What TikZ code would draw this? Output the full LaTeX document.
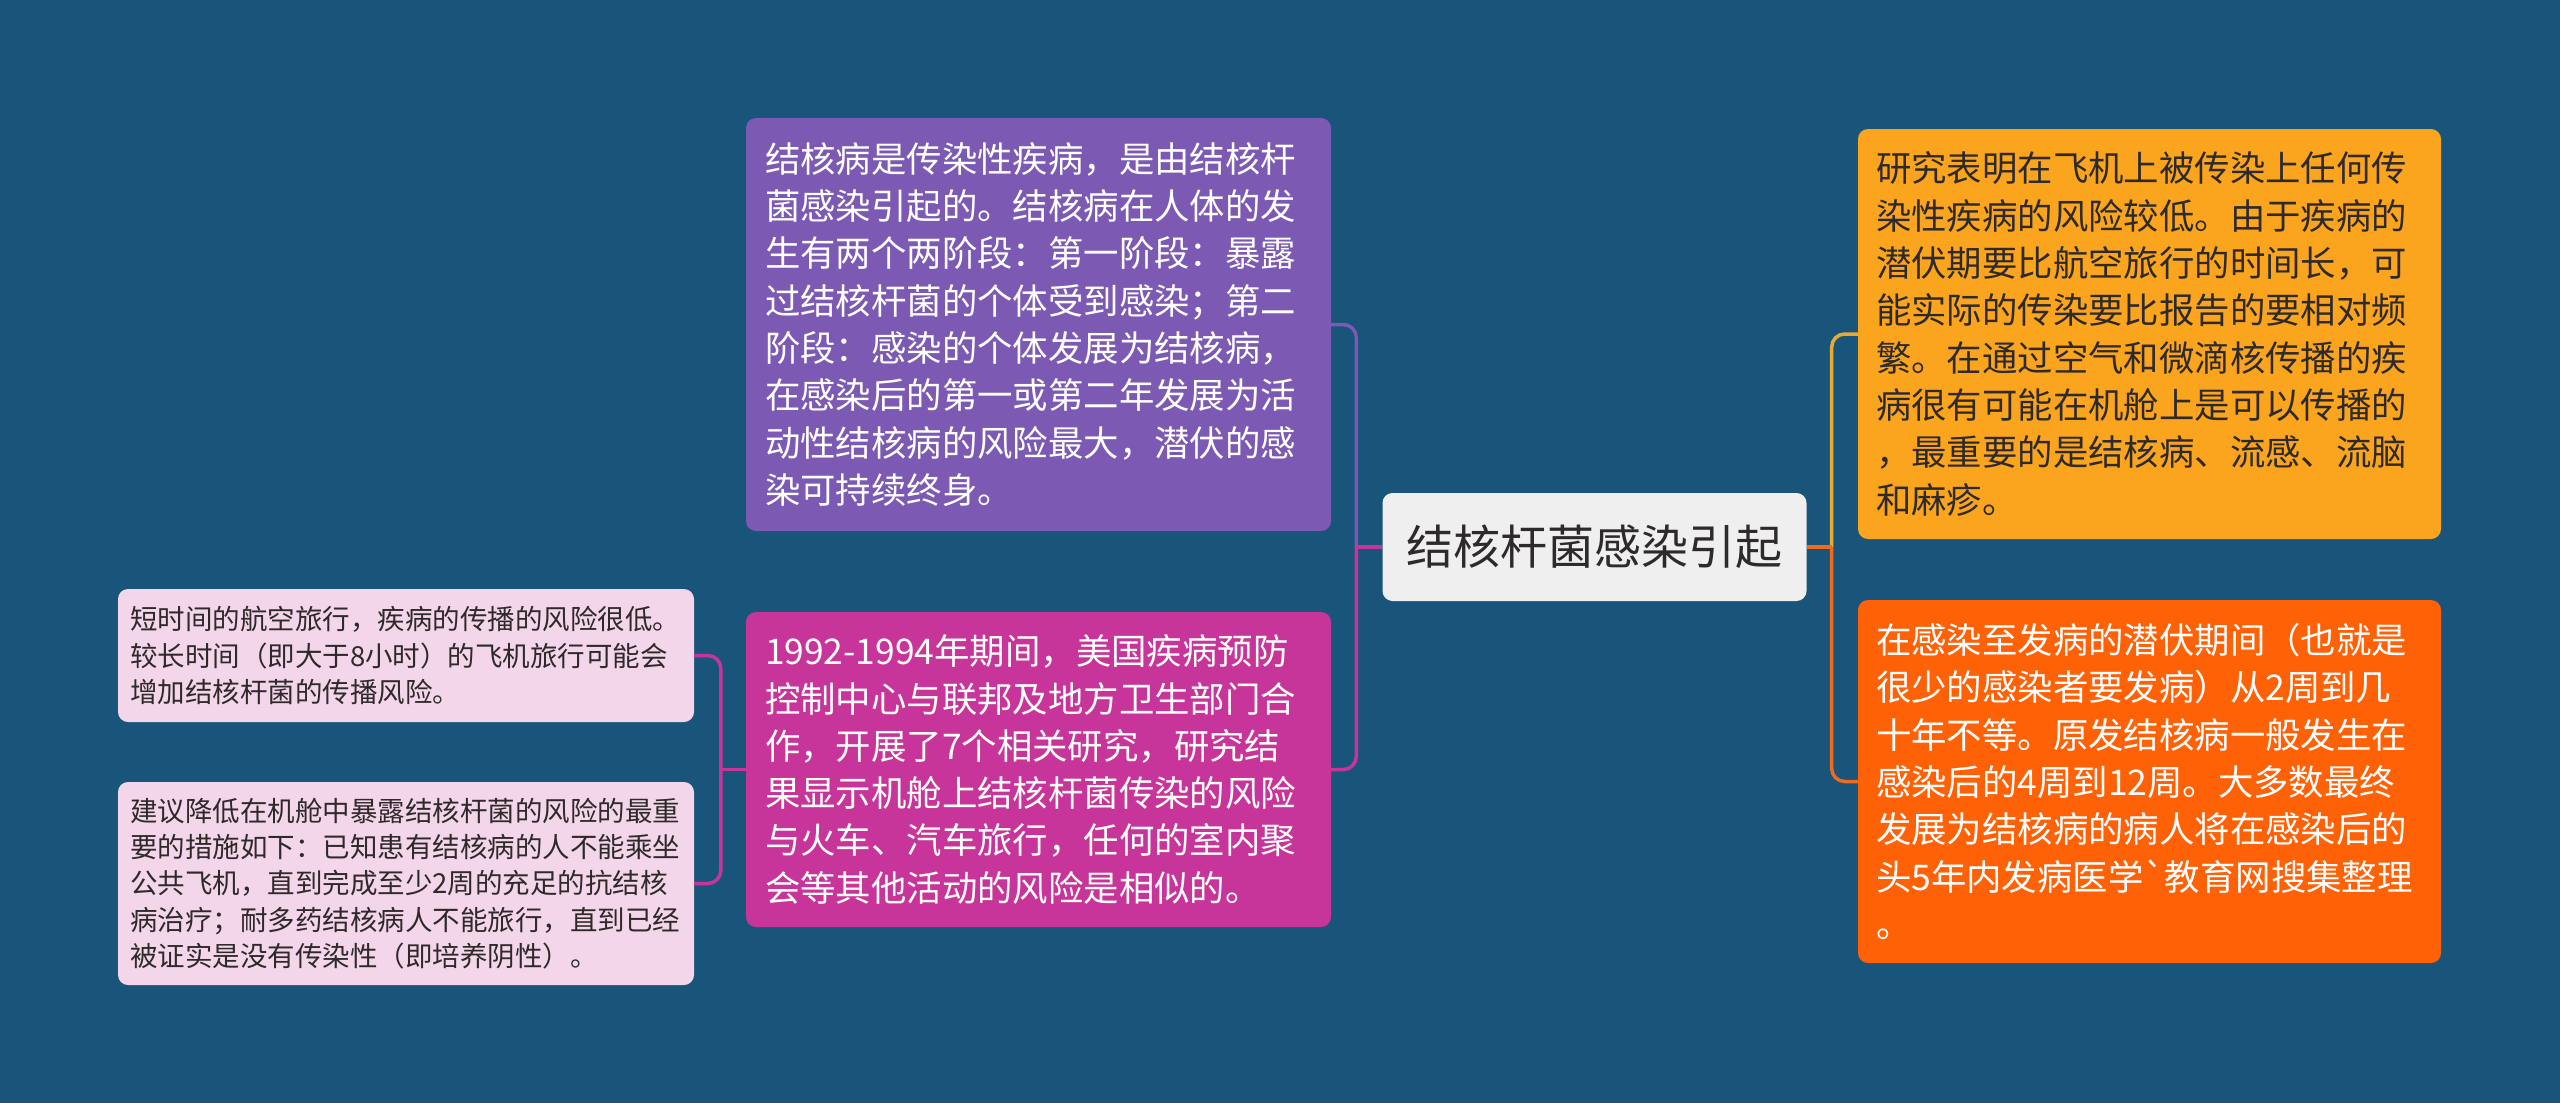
\documentclass[tikz,border=0pt]{standalone}
\usepackage{fontspec}
\setmainfont{Noto Sans CJK SC}
\definecolor{bg}{HTML}{19547A}
\definecolor{cpurple}{HTML}{7C5AB3}
\definecolor{cmagenta}{HTML}{C8359A}
\definecolor{cpink}{HTML}{F4D6EA}
\definecolor{corange}{HTML}{FBA51E}
\definecolor{cred}{HTML}{FF6106}
\definecolor{ccenter}{HTML}{EFEFEF}
\definecolor{lorange}{HTML}{E9A935}
\definecolor{lred}{HTML}{F06A1E}
\definecolor{dtext}{HTML}{2E2A2A}
\tikzset{
  boxbase/.style={rounded corners=10pt, inner ysep=0pt, align=left, anchor=center},
  bigbox/.style={boxbase, inner xsep=19pt, text width=547pt,
     font=\fontsize{35.4pt}{47.3pt}\selectfont},
  leafbox/.style={boxbase, inner xsep=12pt, text width=552pt, fill=cpink, text=dtext,
     font=\fontsize{27.5pt}{36.2pt}\selectfont},
  conn/.style={line width=3.5pt, rounded corners=13pt}
}
\begin{document}
\begin{tikzpicture}[x=1pt,y=-1pt]
\fill[bg] (0,0) rectangle (2560,1103);
\useasboundingbox (0,0) rectangle (2560,1103);

% center
\node[boxbase, fill=ccenter, text=dtext, minimum width=424pt, minimum height=108pt,
  align=center, font=\fontsize{47pt}{56pt}\selectfont] (c) at (1594.5,547) {结核杆菌感染引起};

% left main branches
\node[bigbox, fill=cpurple, text=white, minimum height=413pt] (p) at (1038.5,324.5)
 {结核病是传染性疾病，是由结核杆\\菌感染引起的。结核病在人体的发\\生有两个两阶段：第一阶段：暴露\\过结核杆菌的个体受到感染；第二\\阶段：感染的个体发展为结核病，\\在感染后的第一或第二年发展为活\\动性结核病的风险最大，潜伏的感\\染可持续终身。};

\node[bigbox, fill=cmagenta, text=white, minimum height=315pt] (m) at (1038.5,769.5)
 {1992-1994年期间，美国疾病预防\\控制中心与联邦及地方卫生部门合\\作，开展了7个相关研究，研究结\\果显示机舱上结核杆菌传染的风险\\与火车、汽车旅行，任何的室内聚\\会等其他活动的风险是相似的。};

% leaves of magenta
\node[leafbox, minimum height=133pt] (l1) at (406,655.5)
 {短时间的航空旅行，疾病的传播的风险很低。\\较长时间（即大于8小时）的飞机旅行可能会\\增加结核杆菌的传播风险。};
\node[leafbox, minimum height=203pt] (l2) at (406,883.5)
 {建议降低在机舱中暴露结核杆菌的风险的最重\\要的措施如下：已知患有结核病的人不能乘坐\\公共飞机，直到完成至少2周的充足的抗结核\\病治疗；耐多药结核病人不能旅行，直到已经\\被证实是没有传染性（即培养阴性）。};

% right branches
\node[bigbox, inner xsep=18pt, fill=corange, text=dtext, minimum height=410pt] (o) at (2149.5,334)
 {研究表明在飞机上被传染上任何传\\染性疾病的风险较低。由于疾病的\\潜伏期要比航空旅行的时间长，可\\能实际的传染要比报告的要相对频\\繁。在通过空气和微滴核传播的疾\\病很有可能在机舱上是可以传播的\\，最重要的是结核病、流感、流脑\\和麻疹。};
\node[bigbox, inner xsep=18pt, fill=cred, text=white, minimum height=363pt] (r) at (2149.5,781.5)
 {在感染至发病的潜伏期间（也就是\\很少的感染者要发病）从2周到几\\十年不等。原发结核病一般发生在\\感染后的4周到12周。大多数最终\\发展为结核病的病人将在感染后的\\头5年内发病医学\textasciigrave 教育网搜集整理\\。};

% junctions
\coordinate (jL) at ([xshift=-26pt]c.west);
\coordinate (jR) at ([xshift=25pt]c.east);
\coordinate (jM) at ([xshift=-25pt]m.west);

% connectors
\draw[conn, cpurple] (jL) |- (p.east);
\draw[conn, cmagenta] (jL) |- (m.east);
\draw[line width=3.5pt, cmagenta] (c.west) -- (jL);

\draw[conn, cmagenta] (jM) |- (l1.east);
\draw[conn, cmagenta] (jM) |- (l2.east);
\draw[line width=3.5pt, cmagenta] (m.west) -- (jM);

\draw[conn, lorange] (jR) |- (o.west);
\draw[conn, lred] (jR) |- (r.west);
\draw[line width=3.5pt, lred] (c.east) -- (jR);
\end{tikzpicture}
\end{document}
